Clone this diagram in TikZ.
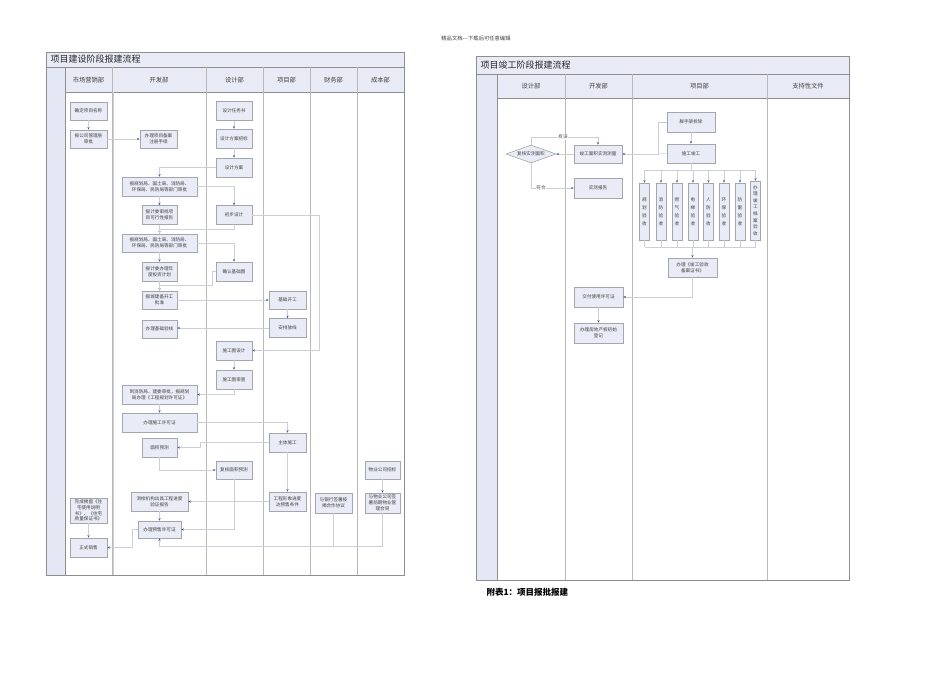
\documentclass[tikz,border=0pt]{standalone}
\usepackage{fontspec}
\newfontfamily\cjk{Noto Sans CJK SC}
\usetikzlibrary{arrows.meta,shapes.geometric,calc}
\definecolor{boxfill}{HTML}{E9ECF6}
\definecolor{boxline}{HTML}{A4A6AE}
\definecolor{frameline}{HTML}{8E8E8E}
\definecolor{sepline}{HTML}{B8B8B8}
\definecolor{connc}{HTML}{CCCFD8}
\definecolor{tipblue}{HTML}{3C5A9A}
\definecolor{hdrfill}{HTML}{E8EBF5}
\definecolor{lanefill}{HTML}{E4E8F4}
\begin{document}
\begin{tikzpicture}[x=1pt,y=-1pt,
  bx/.style={draw=boxline, fill=boxfill, line width=0.6pt, inner sep=0pt, align=center,
    font=\cjk\fontsize{4.6}{5.8}\selectfont, text=black!75},
  vbx/.style={bx, minimum width=10pt, minimum height=57pt, font=\cjk\fontsize{4.6}{8}\selectfont},
  conn/.style={draw=connc, line width=0.5pt},
  arr/.style={conn, -{Stealth[length=2.6pt,width=2.2pt,color=tipblue]}},
  hdr/.style={font=\cjk\fontsize{6.3}{7}\selectfont, text=black!75},
  ttl/.style={font=\cjk\fontsize{9}{10}\selectfont, text=black!85, anchor=west},
  lbl/.style={font=\cjk\fontsize{4.6}{5}\selectfont, text=black!70, fill=white, inner sep=0.5pt},
  frm/.style={draw=frameline, line width=0.6pt},
  sep/.style={draw=sepline, line width=0.6pt}]
\useasboundingbox (0,0) rectangle (950,672);
\fill[white] (0,0) rectangle (950,672);

\node[font=\cjk\fontsize{5.3}{6}\selectfont, text=black!75] (doctop) at (476,38) {精品文档---下载后可任意编辑};

% ================= LEFT FRAME =================
\fill[hdrfill] (46,52) rectangle (404,92);
\fill[lanefill] (46,67) rectangle (65,575);
\draw[frm] (46,52) rectangle (404,575);
\draw[frm] (46,67) -- (404,67);
\draw[frm] (65,92) -- (404,92);
\draw[frm] (65,67) -- (65,575);
\foreach \xx in {112,206.5,263,310,357} {\draw[sep] (\xx,67) -- (\xx,575);}
\draw[draw=connc, line width=0.5pt] (113.5,92) -- (113.5,575);
\node[ttl] (ltitle) at (47,59.5) {项目建设阶段报建流程};
\node[hdr] (h1) at (88.5,80) {市场营销部};
\node[hdr] (h2) at (159,80) {开发部};
\node[hdr] (h3) at (234.5,80) {设计部};
\node[hdr] (h4) at (286.5,80) {项目部};
\node[hdr] (h5) at (333.5,80) {财务部};
\node[hdr] (h6) at (380.5,80) {成本部};

% market
\node[bx, minimum width=37pt, minimum height=18pt] (n1) at (88.5,111) {确定项目名称};
\node[bx, minimum width=37pt, minimum height=18pt] (n2) at (88.5,139) {报公司管理层\\审批};
\node[bx, minimum width=37pt, minimum height=25pt] (n15) at (88.5,510.5) {完成楼盘《住\\宅使用说明\\书》、《住宅\\质量保证书》};
\node[bx, minimum width=37pt, minimum height=19pt] (n16) at (88.5,547.5) {正式销售};
% development
\node[bx, minimum width=37pt, minimum height=18pt] (n3) at (158.5,139) {办理项目备案\\注册手续};
\node[bx, minimum width=75pt, minimum height=19pt] (n4) at (159.5,186.5) {报规划局、国土局、消防局、\\环保局、民防局等部门审批};
\node[bx, minimum width=35pt, minimum height=19pt] (n5) at (159.5,215) {报计委审批项\\目可行性报告};
\node[bx, minimum width=75pt, minimum height=18pt] (n6) at (159.5,243) {报规划局、国土局、消防局、\\环保局、民防局等部门审批};
\node[bx, minimum width=35pt, minimum height=19pt] (n7) at (159.5,271.5) {报计委办理年\\度投资计划};
\node[bx, minimum width=35pt, minimum height=18pt] (n8) at (159.5,300) {报城建备开工\\批准};
\node[bx, minimum width=35pt, minimum height=18pt] (n9) at (159.5,329) {办理基础验线};
\node[bx, minimum width=75pt, minimum height=19pt] (n10) at (159.5,394.5) {到消防局、建委审批，报规划\\局办理《工程规划许可证》};
\node[bx, minimum width=75pt, minimum height=19pt] (n11) at (159.5,422.5) {办理施工许可证};
\node[bx, minimum width=35pt, minimum height=19pt] (n12) at (159.5,447.5) {面积预测};
\node[bx, minimum width=57pt, minimum height=19pt] (n13) at (159.5,501.5) {测绘机构出具工程进度\\验证报告};
\node[bx, minimum width=43pt, minimum height=17pt] (n14) at (159.5,529.5) {办理预售许可证};
% design
\node[bx, minimum width=36pt, minimum height=19pt] (d1) at (234,111) {设计任务书};
\node[bx, minimum width=36pt, minimum height=19pt] (d2) at (234,138.5) {设计方案招标};
\node[bx, minimum width=36pt, minimum height=19pt] (d3) at (234,167.5) {设计方案};
\node[bx, minimum width=36pt, minimum height=19pt] (d4) at (234,215) {初步设计};
\node[bx, minimum width=36pt, minimum height=19pt] (d5) at (234,271.5) {确认基础图};
\node[bx, minimum width=36pt, minimum height=19pt] (d6) at (234,350.5) {施工图设计};
\node[bx, minimum width=36pt, minimum height=19pt] (d7) at (234,379.5) {施工图审查};
\node[bx, minimum width=36pt, minimum height=18pt] (d8) at (234,470) {复核面积预测};
% project
\node[bx, minimum width=37pt, minimum height=18pt] (p1) at (287.5,300) {基础开工};
\node[bx, minimum width=37pt, minimum height=19pt] (p2) at (287.5,328) {安排放线};
\node[bx, minimum width=37pt, minimum height=19pt] (p3) at (287.5,442.5) {主体施工};
\node[bx, minimum width=37pt, minimum height=19pt] (p4) at (287.5,501.5) {工程形象进度\\达预售条件};
% finance / cost
\node[bx, minimum width=37pt, minimum height=20pt] (f1) at (333.5,503) {与银行签署按\\揭合作协议};
\node[bx, minimum width=35pt, minimum height=18pt] (c1) at (382.5,470) {物业公司招标};
\node[bx, minimum width=35pt, minimum height=20pt] (c2) at (382.5,503) {与物业公司签\\署前期物业管\\理合同};

% connectors left
\draw[arr] (n1) -- (n2);
\draw[arr] (n2) -- (n3);
\draw[arr] (d1) -- (d2);
\draw[arr] (d2) -- (d3);
\draw[arr] (d3.west) -| (n4.north);
\draw[arr] (n4.east) -| (d4.north);
\draw[arr] (n4) -- (n5);
\coordinate (j1) at (234,229);
\draw[arr] (d4.south) -- (j1) -| (n6.north);
\draw[conn] (n5.south) -- (n6.north);
\draw[arr] (n6.east) -| (d5.north);
\draw[arr] (n6) -- (n7);
\coordinate (j2) at (212,285);
\draw[arr] (d5.west) -| (j2) -| (n8.north);
\draw[conn] (n7.south) -- (n8.north);
\draw[arr] (n8) -- (p1);
\draw[arr] (p1) -- (p2);
\draw[arr] (p2.west) -- (p2.west -| n9.east);
\coordinate (j3) at (319,215);
\draw[arr] (d4.east) -- (j3) |- (d6.east);
\draw[arr] (d6) -- (d7);
\draw[arr] (d7.south) |- (n10.east);
\draw[arr] (n10) -- (n11);
\draw[arr] (n11.east) -| (p3.north);
\coordinate (j4) at (200,442.5);
\draw[arr] (p3.west) -- (j4) |- (n12.east);
\draw[arr] (n12.south) |- (d8.west);
\draw[arr] (p3) -- (p4);
\draw[arr] (c1) -- (c2);
\draw[arr] (p4.west) -- (n13.east);
\draw[arr] (d8.south) |- (n14.east);
\draw[arr] (n13) -- (n14);
\coordinate (b1) at (159.5,546);
\draw[arr] (c2.south) |- (b1) -- (n14.south);
\draw[conn] (f1.south) -- (f1.south |- b1);
\coordinate (j5) at (132,529.5);
\draw[arr] (n14.west) -- (j5) |- (n16.east);
\draw[arr] (n15) -- (n16);

% ================= RIGHT FRAME =================
\fill[hdrfill] (476,56) rectangle (849,98);
\fill[lanefill] (476,74) rectangle (497,580);
\draw[frm] (476,56) rectangle (849,580);
\draw[frm] (476,74) -- (849,74);
\draw[frm] (497,98) -- (849,98);
\draw[frm] (497,74) -- (497,580);
\foreach \xx in {565,632,767} {\draw[sep] (\xx,74) -- (\xx,580);}
\node[ttl] (rtitle) at (477,65) {项目竣工阶段报建流程};
\node[hdr] (rh1) at (531,86) {设计部};
\node[hdr] (rh2) at (598.5,86) {开发部};
\node[hdr] (rh3) at (699.5,86) {项目部};
\node[hdr] (rh4) at (808,86) {支持性文件};

\node[bx, shape=diamond, aspect=2.8, minimum width=50pt, minimum height=18pt] (rd) at (531,154) {复核实测面积};
\node[bx, minimum width=48pt, minimum height=18pt] (r1) at (598,154) {竣工面积实测测量};
\node[bx, minimum width=48pt, minimum height=20pt] (r2) at (598,188) {实测报告};
\node[bx, minimum width=48pt, minimum height=20pt] (r3) at (691,122) {脚手架拆除};
\node[bx, minimum width=48pt, minimum height=19pt] (r4) at (691,153.5) {施工竣工};
\node[vbx] (v1) at (644.5,211.5) {规\\划\\验\\收};
\node[vbx] (v2) at (661,211.5) {消\\防\\验\\收};
\node[vbx] (v3) at (677,211.5) {燃\\气\\验\\收};
\node[vbx] (v4) at (693,211.5) {电\\梯\\验\\收};
\node[vbx] (v5) at (708.5,211.5) {人\\防\\验\\收};
\node[vbx] (v6) at (724,211.5) {环\\保\\验\\收};
\node[vbx] (v7) at (740,211.5) {防\\雷\\验\\收};
\node[vbx, minimum height=59pt, font=\cjk\fontsize{4.6}{6.6}\selectfont] (v8) at (755.5,210.5) {办\\理\\竣\\工\\档\\案\\验\\收};
\node[bx, minimum width=49pt, minimum height=19pt] (r5) at (692.5,267.5) {办理《竣工验收\\备案证书》};
\node[bx, minimum width=49pt, minimum height=20pt] (r6) at (598.5,297) {交付使用许可证};
\node[bx, minimum width=49pt, minimum height=20pt] (r7) at (598.5,333) {办理房地产权初始\\登记};

\draw[arr] (r1.west) -- (rd.east);
\coordinate (q1) at (531,137);
\draw[arr] (rd.north) -- (q1) -| (r1.north);
\node[lbl] (lb1) at (563,137) {有误};
\draw[arr] (rd.south) |- (r2.west);
\node[lbl] (lb2) at (541,187.5) {符合};
\coordinate (rj) at (658,154);
\draw[arr] (r3.west) -| (rj) -- (r1.east);
\draw[conn] (r4.west) -- (rj);
\draw[arr] (r3) -- (r4);
\coordinate (bus1) at (691,170);
\draw[conn] (r4.south) -- (bus1);
\draw[conn] (644.5,170) coordinate (bl) -- (755.5,170) coordinate (br);
\foreach \v in {v1,v2,v3,v4,v5,v6,v7,v8} {\draw[arr] (\v.north |- bus1) -- (\v.north);}
\coordinate (bus2) at (692.5,247);
\draw[conn] (644.5,247) coordinate (bl2) -- (755.5,247) coordinate (br2);
\foreach \v in {v1,v2,v3,v4,v5,v6,v7,v8} {\draw[conn] (\v.south) -- (\v.south |- bus2);}
\draw[arr] (bus2) -- (r5.north);
\draw[arr] (r5.south) |- (r6.east);
\draw[arr] (r6) -- (r7);

\node[font=\cjk\bfseries\fontsize{8.5}{9}\selectfont, anchor=west] (caption) at (483,592) {附表1：项目报批报建};
\end{tikzpicture}
\end{document}
